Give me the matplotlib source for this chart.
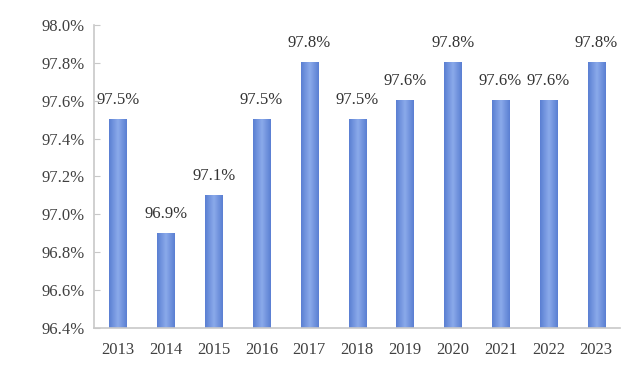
import matplotlib.pyplot as plt
import numpy as np
from matplotlib.colors import LinearSegmentedColormap

years = ['2013', '2014', '2015', '2016', '2017', '2018', '2019', '2020', '2021', '2022', '2023']
rates = [97.5, 96.9, 97.1, 97.5, 97.8, 97.5, 97.6, 97.8, 97.6, 97.6, 97.8]
yticks = [96.4, 96.6, 96.8, 97.0, 97.2, 97.4, 97.6, 97.8, 98.0]

plt.rcParams['font.family'] = ['Liberation Serif', 'DejaVu Serif']

fig = plt.figure(figsize=(6.4, 3.66), dpi=100)
ax = fig.add_axes([0.147, 0.104, 0.822, 0.828])

x = np.arange(len(years))
bars = ax.bar(x, [r - 96.4 for r in rates], bottom=96.4, width=0.36, color='#6f93dd')

# horizontal gradient on each bar: darker edges, lighter middle
grad = np.abs(np.linspace(-1, 1, 64))[None, :]
cmap = LinearSegmentedColormap.from_list('bar', ['#8aa9ea', '#5a7fd2'])
for b in bars:
    ax.imshow(grad, cmap=cmap, aspect='auto', zorder=2,
              extent=[b.get_x(), b.get_x() + b.get_width(), b.get_y(), b.get_y() + b.get_height()])

for xi, r in zip(x, rates):
    ax.text(xi, r + 0.06, f'{r:.1f}%', ha='center', va='bottom', fontsize=12, color='#333333')

ax.set_xlim(-0.5, len(years) - 0.5)
ax.set_ylim(96.4, 98.0)
ax.set_yticks(yticks)
ax.set_yticklabels([f'{t:.1f}%' for t in yticks])
ax.set_xticks(x)
ax.set_xticklabels(years)
ax.tick_params(axis='y', direction='in', length=4, color='#c8c8c8', labelsize=12, labelcolor='#404040', pad=7)
ax.tick_params(axis='x', length=0, labelsize=12, labelcolor='#404040', pad=10)
for s in ['top', 'right']:
    ax.spines[s].set_visible(False)
for s in ['left', 'bottom']:
    ax.spines[s].set_color('#c8c8c8')
    ax.spines[s].set_linewidth(1.2)

plt.savefig('out.png', dpi=100)
